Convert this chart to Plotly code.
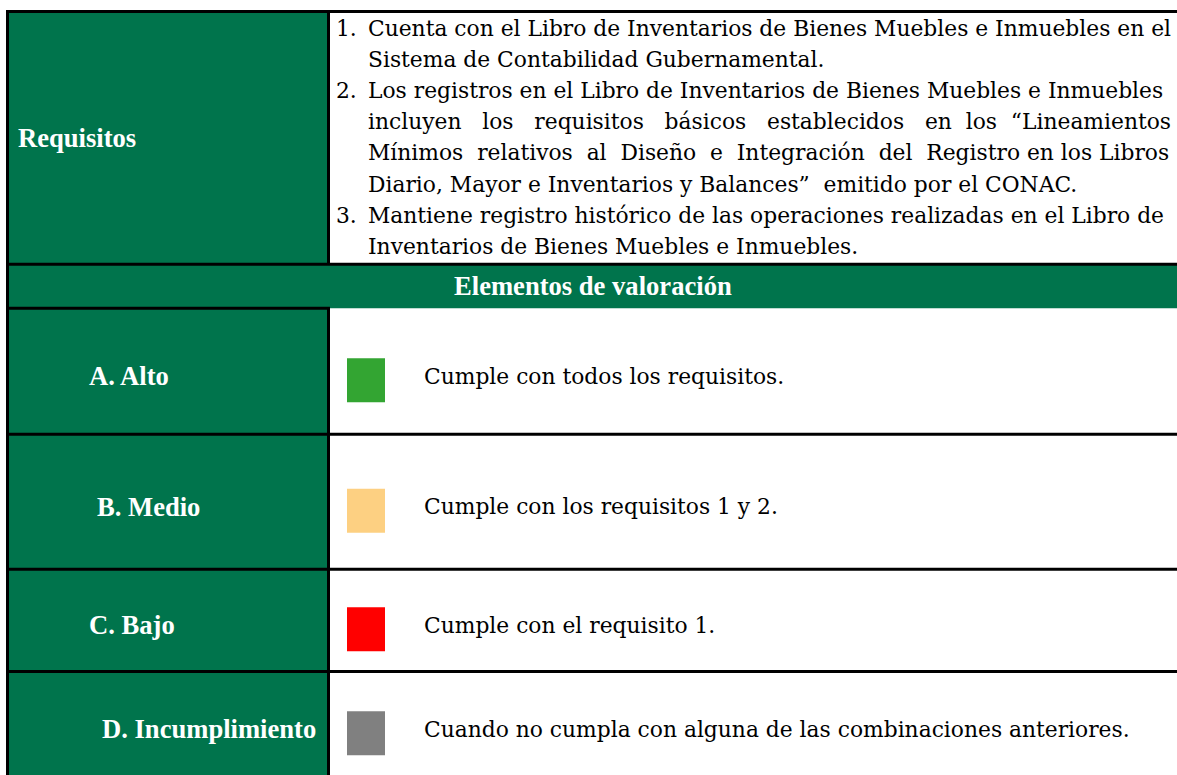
import plotly.graph_objects as go

# ---------------- data ----------------
requisitos_label = "Requisitos"
req_numbers = ["1.", "", "2.", "", "", "", "3.", ""]
req_lines = [
    "Cuenta con el Libro de Inventarios de Bienes Muebles e Inmuebles en el",
    "Sistema de Contabilidad Gubernamental.",
    "Los registros en el Libro de Inventarios de Bienes Muebles e Inmuebles",
    "incluyen los requisitos básicos establecidos en los “Lineamientos",
    "Mínimos relativos al Diseño e Integración del Registro en los Libros",
    "Diario, Mayor e Inventarios y Balances”  emitido por el CONAC.",
    "Mantiene registro histórico de las operaciones realizadas en el Libro de",
    "Inventarios de Bienes Muebles e Inmuebles.",
]
header_text = "Elementos de valoración"
levels = ["A. Alto", "B. Medio", "C. Bajo", "D. Incumplimiento"]
descriptions = [
    "Cumple con todos los requisitos.",
    "Cumple con los requisitos 1 y 2.",
    "Cumple con el requisito 1.",
    "Cuando no cumpla con alguna de las combinaciones anteriores.",
]
level_colors = ["#33A532", "#FDD082", "#FF0000", "#808080"]

# ---------------- layout / style ----------------
W, H = 1177, 775
GREEN = "#00744C"
LEFT, DIV, RIGHT = 7.5, 328.5, 1180
TOP = 11.5
HEAD_TOP, HEAD_BOT = 264.2, 308.2
row_edges = [308.2, 434.2, 569.2, 671.5, 777]
label_x = [87, 95, 87, 100]
LINE_H = 31.2
FIRST_LINE = 28
NUM_X, TXT_X = 334, 366
SERIF_B = "Liberation Serif"
BODY = "DejaVu Serif"
BODY_SIZE = 21.8
LABEL_SIZE = 26.6
# extra spaces used to imitate the justified lines of the original
justify_extra = [0, 0, 0, 12, 7, 0, 0, 0]


def justify(text, extra):
    if extra <= 0:
        return text
    words = text.split(" ")
    gaps = len(words) - 1
    out = words[0]
    for g in range(gaps):
        n = 1 + extra // gaps + (1 if g < extra % gaps else 0)
        out += " " * n + words[g + 1]
    return out


fig = go.Figure()
shapes = []
annotations = []

def rect(x0, y0, x1, y1, color):
    shapes.append(dict(type="rect", xref="x", yref="y", x0=x0, y0=y0, x1=x1, y1=y1,
                       fillcolor=color, line=dict(width=0), layer="below"))

def hline(y, x0, x1):
    shapes.append(dict(type="line", xref="x", yref="y", x0=x0, x1=x1, y0=y, y1=y,
                       line=dict(color="black", width=3)))

def vline(x, y0, y1):
    shapes.append(dict(type="line", xref="x", yref="y", x0=x, x1=x, y0=y0, y1=y1,
                       line=dict(color="black", width=3)))

# fills
rect(LEFT, TOP, DIV, H + 5, GREEN)
rect(LEFT, HEAD_TOP, RIGHT, HEAD_BOT, GREEN)

# borders
hline(TOP, LEFT - 1.5, RIGHT)
vline(LEFT, TOP, H + 5)
vline(DIV, TOP, HEAD_TOP)
vline(DIV, HEAD_BOT, H + 5)
hline(HEAD_TOP, LEFT, RIGHT)
hline(HEAD_BOT, LEFT, DIV + 1.5)
for y in row_edges[1:-1]:
    hline(y, LEFT, RIGHT)

body_font = dict(family=BODY, size=BODY_SIZE, color="black")
label_font = dict(family=SERIF_B, size=LABEL_SIZE, color="white")

# Requisitos cell
annotations.append(dict(x=16, y=(TOP + HEAD_TOP) / 2, text="<b>%s</b>" % requisitos_label,
                        xanchor="left", yanchor="middle", showarrow=False, font=label_font))
for i, (num, line) in enumerate(zip(req_numbers, req_lines)):
    y = FIRST_LINE + i * LINE_H
    if num:
        annotations.append(dict(x=NUM_X, y=y, text=num, xanchor="left", yanchor="middle",
                                showarrow=False, font=body_font))
    annotations.append(dict(x=TXT_X, y=y, text=justify(line, justify_extra[i]),
                            xanchor="left", yanchor="middle",
                            showarrow=False, font=body_font))

# header
annotations.append(dict(x=593, y=(HEAD_TOP + HEAD_BOT) / 2, text="<b>%s</b>" % header_text,
                        xanchor="center", yanchor="middle", showarrow=False, font=label_font))

# levels
for i, (lab, desc, col) in enumerate(zip(levels, descriptions, level_colors)):
    yc = (row_edges[i] + row_edges[i + 1]) / 2
    annotations.append(dict(x=label_x[i], y=yc + 5, text="<b>%s</b>" % lab,
                            xanchor="left", yanchor="middle", showarrow=False, font=label_font))
    rect(347, yc + 9 - 22, 385, yc + 9 + 22, col)
    annotations.append(dict(x=422, y=yc + 5, text=desc, xanchor="left", yanchor="middle",
                            showarrow=False, font=body_font))

fig.update_layout(
    width=W, height=H,
    margin=dict(l=0, r=0, t=0, b=0),
    paper_bgcolor="white", plot_bgcolor="white",
    xaxis=dict(range=[0, W], visible=False, fixedrange=True),
    yaxis=dict(range=[H, 0], visible=False, fixedrange=True),
    shapes=shapes, annotations=annotations,
    showlegend=False,
)
fig.write_html("out.html", config={"displayModeBar": False},
               post_script="document.body.style.margin='0';document.body.style.overflow='hidden';")
